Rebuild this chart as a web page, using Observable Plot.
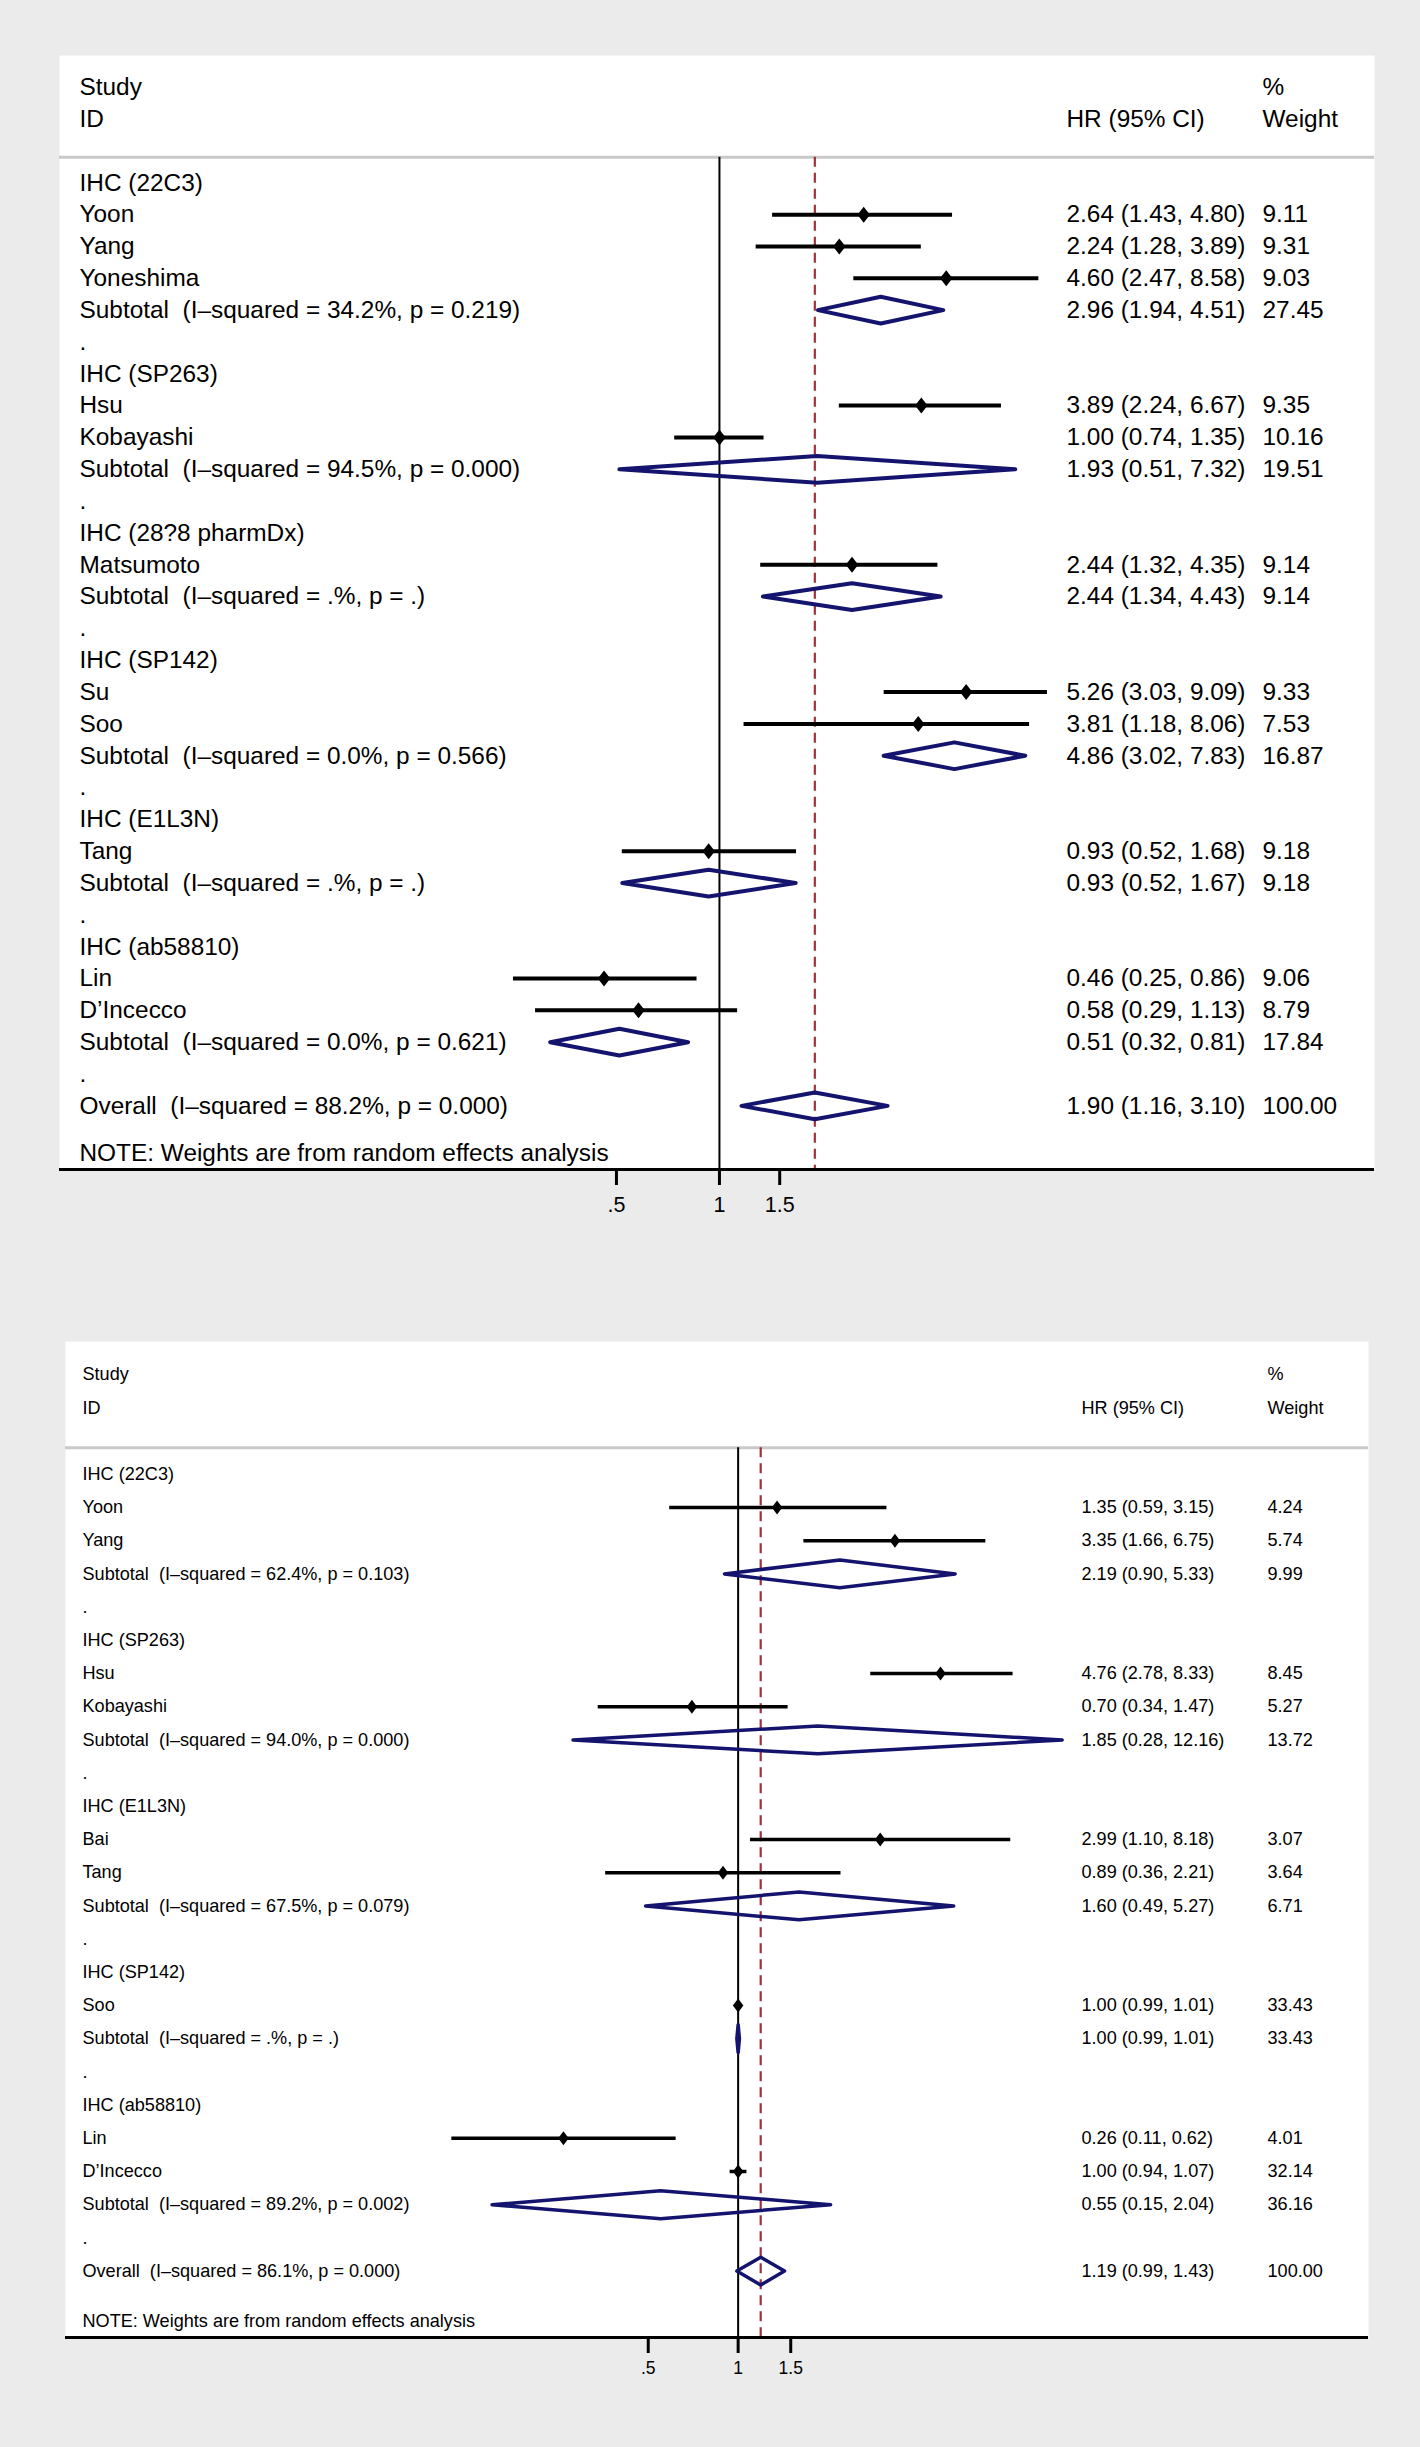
<!DOCTYPE html>
<html><head><meta charset="utf-8">
<script src="https://cdn.jsdelivr.net/npm/d3@7"></script>
<script src="https://cdn.jsdelivr.net/npm/@observablehq/plot@0.6"></script>
<style>
html,body{margin:0;padding:0;background:#ebebeb;}
#chart{width:1420px;height:2447px;}
svg{display:block}
svg text{white-space:pre;}
</style></head><body><div id="chart"></div>
<script>
// ---------- Panel A data ----------
const aLabels = ["IHC (22C3)","Yoon","Yang","Yoneshima","Subtotal  (I–squared = 34.2%, p = 0.219)",".",
  "IHC (SP263)","Hsu","Kobayashi","Subtotal  (I–squared = 94.5%, p = 0.000)",".",
  "IHC (28?8 pharmDx)","Matsumoto","Subtotal  (I–squared = .%, p = .)",".",
  "IHC (SP142)","Su","Soo","Subtotal  (I–squared = 0.0%, p = 0.566)",".",
  "IHC (E1L3N)","Tang","Subtotal  (I–squared = .%, p = .)",".",
  "IHC (ab58810)","Lin","D’Incecco","Subtotal  (I–squared = 0.0%, p = 0.621)",".",
  "Overall  (I–squared = 88.2%, p = 0.000)"];
const aKind = ["h","s","s","s","t","d", "h","s","s","t","d", "h","s","t","d", "h","s","s","t","d", "h","s","t","d", "h","s","s","t","d", "o"];
const aHR  = [null,2.64,2.24,4.60,2.96,null, null,3.89,1.00,1.93,null, null,2.44,2.44,null, null,5.26,3.81,4.86,null, null,0.93,0.93,null, null,0.46,0.58,0.51,null, 1.90];
const aLo  = [null,1.43,1.28,2.47,1.94,null, null,2.24,0.74,0.51,null, null,1.32,1.34,null, null,3.03,1.18,3.02,null, null,0.52,0.52,null, null,0.25,0.29,0.32,null, 1.16];
const aHi  = [null,4.80,3.89,8.58,4.51,null, null,6.67,1.35,7.32,null, null,4.35,4.43,null, null,9.09,8.06,7.83,null, null,1.68,1.67,null, null,0.86,1.13,0.81,null, 3.10];
const aWt  = [null,9.11,9.31,9.03,27.45,null, null,9.35,10.16,19.51,null, null,9.14,9.14,null, null,9.33,7.53,16.87,null, null,9.18,9.18,null, null,9.06,8.79,17.84,null, 100.00];

// ---------- Panel B data ----------
const bLabels = ["IHC (22C3)","Yoon","Yang","Subtotal  (I–squared = 62.4%, p = 0.103)",".",
  "IHC (SP263)","Hsu","Kobayashi","Subtotal  (I–squared = 94.0%, p = 0.000)",".",
  "IHC (E1L3N)","Bai","Tang","Subtotal  (I–squared = 67.5%, p = 0.079)",".",
  "IHC (SP142)","Soo","Subtotal  (I–squared = .%, p = .)",".",
  "IHC (ab58810)","Lin","D’Incecco","Subtotal  (I–squared = 89.2%, p = 0.002)",".",
  "Overall  (I–squared = 86.1%, p = 0.000)"];
const bKind = ["h","s","s","t","d", "h","s","s","t","d", "h","s","s","t","d", "h","s","t","d", "h","s","s","t","d", "o"];
const bHR  = [null,1.35,3.35,2.19,null, null,4.76,0.70,1.85,null, null,2.99,0.89,1.60,null, null,1.00,1.00,null, null,0.26,1.00,0.55,null, 1.19];
const bLo  = [null,0.59,1.66,0.90,null, null,2.78,0.34,0.28,null, null,1.10,0.36,0.49,null, null,0.99,0.99,null, null,0.11,0.94,0.15,null, 0.99];
const bHi  = [null,3.15,6.75,5.33,null, null,8.33,1.47,12.16,null, null,8.18,2.21,5.27,null, null,1.01,1.01,null, null,0.62,1.07,2.04,null, 1.43];
const bWt  = [null,4.24,5.74,9.99,null, null,8.45,5.27,13.72,null, null,3.07,3.64,6.71,null, null,33.43,33.43,null, null,4.01,32.14,36.16,null, 100.00];

// ---------- shared text ----------
const headLeft = ["Study","ID"];
const headHR = ["HR (95% CI)"];
const headWt = ["%","Weight"];
const noteText = ["NOTE: Weights are from random effects analysis"];
const tickValues = [0.5, 1, 1.5];
const tickLabels = [".5", "1", "1.5"];

const NAVY = "#14146e", REF = "#a3303c", HEADLINE = "#c9c9c9";
const FONT = "Liberation Sans, Arial, Helvetica, sans-serif";

function buildRows(labels, kind, hr, lo, hi, wt) {
  return labels.map((label, i) => ({row: i + 1, label, kind: kind[i], hr: hr[i], lo: lo[i], hi: hi[i], wt: wt[i]}));
}

function diamondSymbol(ratio) {
  return {draw(ctx, size) {
    const h = Math.sqrt(size / Math.PI), w = h * ratio;
    ctx.moveTo(0, -h); ctx.lineTo(w, 0); ctx.lineTo(0, h); ctx.lineTo(-w, 0); ctx.closePath();
  }};
}

function panel(cfg) {
  const rows = buildRows(cfg.labels, cfg.kind, cfg.hr, cfg.lo, cfg.hi, cfg.wt);
  const studies = rows.filter(d => d.kind === "s");
  const pooled = rows.filter(d => d.kind === "t" || d.kind === "o");
  const overall = rows.find(d => d.kind === "o");
  const lastRow = rows.length;
  const yBottom = lastRow + 2;
  const noteRow = lastRow + 1.5;
  const hh = 0.42;
  const dpts = pooled.flatMap(d => [
    {id: d.row, x: d.lo, y: d.row},
    {id: d.row, x: d.hr, y: d.row - hh},
    {id: d.row, x: d.hi, y: d.row},
    {id: d.row, x: d.hr, y: d.row + hh}
  ]);
  const withHR = rows.filter(d => d.hr != null);
  const fmt = v => v.toFixed(2);
  const fs = cfg.fontSize;
  const ticks = tickValues.map((v, i) => ({v, label: tickLabels[i]}));
  return Plot.plot({
    width: 1420,
    height: cfg.height,
    marginTop: cfg.mt, marginBottom: cfg.mb, marginLeft: cfg.ml, marginRight: cfg.mr,
    style: {fontFamily: FONT, background: "transparent", overflow: "visible", color: "black"},
    x: {type: "log", domain: cfg.xDomain, axis: null},
    y: {type: "linear", domain: [-3, yBottom], reverse: true, axis: null},
    marks: [
      Plot.frame({fill: "white", stroke: "none"}),
      Plot.ruleY([0.2], {stroke: HEADLINE, strokeWidth: 3}),
      Plot.ruleX([1], {y1: 0.2, y2: yBottom, stroke: "black", strokeWidth: 2}),
      Plot.ruleX([overall.hr], {y1: 0.2, y2: yBottom, stroke: REF, strokeWidth: 2.2, strokeDasharray: "10,6"}),
      Plot.ruleY(studies, {y: "row", x1: "lo", x2: "hi", stroke: "black", strokeWidth: cfg.ciWidth}),
      Plot.dot(studies, {x: "hr", y: "row", r: cfg.markerH, symbol: diamondSymbol(cfg.markerRatio), fill: "black", stroke: "none"}),
      Plot.line(dpts, {x: "x", y: "y", z: "id", curve: "linear-closed", stroke: NAVY, strokeWidth: cfg.diaWidth, fill: "none"}),
      // header texts
      Plot.text(headLeft, {y: (d, i) => i - 2, text: d => d, frameAnchor: "left", dx: cfg.dxLabel, textAnchor: "start", fontSize: fs, fill: "black"}),
      Plot.text(headHR, {y: () => -1, text: d => d, frameAnchor: "left", dx: cfg.dxHR, textAnchor: "start", fontSize: fs, fill: "black"}),
      Plot.text(headWt, {y: (d, i) => i - 2, text: d => d, frameAnchor: "left", dx: cfg.dxWt, textAnchor: "start", fontSize: fs, fill: "black"}),
      // row texts
      Plot.text(rows, {y: "row", text: "label", frameAnchor: "left", dx: cfg.dxLabel, textAnchor: "start", fontSize: fs, fill: "black"}),
      Plot.text(withHR, {y: "row", text: d => `${fmt(d.hr)} (${fmt(d.lo)}, ${fmt(d.hi)})`, frameAnchor: "left", dx: cfg.dxHR, textAnchor: "start", fontSize: fs, fill: "black"}),
      Plot.text(withHR, {y: "row", text: d => fmt(d.wt), frameAnchor: "left", dx: cfg.dxWt, textAnchor: "start", fontSize: fs, fill: "black"}),
      Plot.text(noteText, {y: () => noteRow, text: d => d, frameAnchor: "left", dx: cfg.dxLabel, textAnchor: "start", fontSize: fs, fill: "black"}),
      // axis
      Plot.ruleY([yBottom], {stroke: "black", strokeWidth: 3}),
      Plot.axisX(tickValues, {tickFormat: () => "", tickSize: cfg.tickSize, strokeWidth: 3, stroke: "black"}),
      Plot.text(ticks, {x: "v", text: "label", frameAnchor: "bottom", dy: cfg.labelDy, lineAnchor: "middle", fontSize: cfg.tickFont, fill: "black"})
    ]
  });
}

const chart = document.getElementById("chart");
chart.append(panel({
  labels: aLabels, kind: aKind, hr: aHR, lo: aLo, hi: aHi, wt: aWt,
  height: 1290, mt: 55, mb: 121, ml: 59, mr: 46,
  xDomain: [Math.exp(-4.441), Math.exp(4.408)],
  fontSize: 24.4, tickFont: 21.5, tickSize: 16, labelDy: 36,
  dxLabel: 20, dxHR: 1007, dxWt: 1203,
  ciWidth: 4, diaWidth: 4, markerH: 8, markerRatio: 0.78
}));
chart.append(panel({
  labels: bLabels, kind: bKind, hr: bHR, lo: bLo, hi: bHi, wt: bWt,
  height: 1157, mt: 51, mb: 110, ml: 65, mr: 52,
  xDomain: [Math.exp(-5.186), Math.exp(4.860)],
  fontSize: 18.1, tickFont: 17.5, tickSize: 16, labelDy: 31,
  dxLabel: 17, dxHR: 1016, dxWt: 1202,
  ciWidth: 3.5, diaWidth: 3.5, markerH: 7, markerRatio: 0.75
}));
</script>
</body></html>
